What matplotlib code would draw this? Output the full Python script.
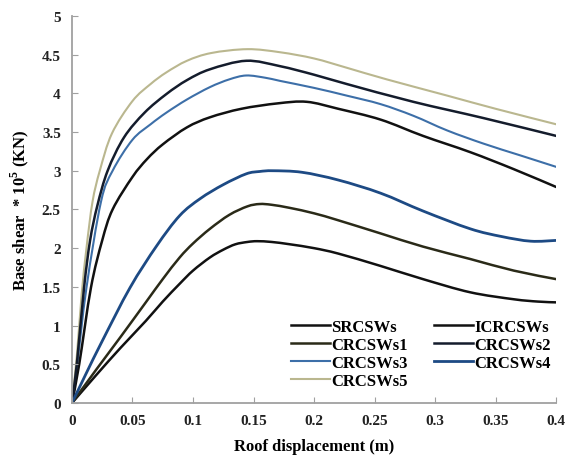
import matplotlib.pyplot as plt
import numpy as np
from matplotlib.path import Path
from matplotlib.patches import PathPatch

# pushover curves
x_sr = [0, 0.02, 0.04, 0.061, 0.075, 0.089, 0.10, 0.114, 0.125, 0.135, 0.145, 0.153, 0.165, 0.18, 0.2, 0.22, 0.255, 0.29, 0.329, 0.365, 0.385, 0.4]
y_sr = [0, 0.36, 0.71, 1.06, 1.31, 1.54, 1.71, 1.88, 1.98, 2.05, 2.08, 2.09, 2.08, 2.05, 2.0, 1.93, 1.77, 1.6, 1.43, 1.34, 1.31, 1.30]

x_c1 = [0, 0.02, 0.04, 0.061, 0.075, 0.089, 0.10, 0.114, 0.13, 0.145, 0.155, 0.165, 0.18, 0.2, 0.22, 0.255, 0.29, 0.329, 0.365, 0.4]
y_c1 = [0, 0.43, 0.85, 1.30, 1.60, 1.88, 2.06, 2.25, 2.43, 2.54, 2.57, 2.56, 2.52, 2.45, 2.36, 2.19, 2.02, 1.86, 1.71, 1.60]

x_c4 = [0, 0.012, 0.025, 0.048, 0.07, 0.089, 0.106, 0.125, 0.144, 0.155, 0.166, 0.19, 0.22, 0.255, 0.29, 0.329, 0.355, 0.379, 0.4]
y_c4 = [0, 0.39, 0.80, 1.49, 2.03, 2.42, 2.64, 2.82, 2.96, 2.99, 3.0, 2.98, 2.88, 2.71, 2.48, 2.25, 2.15, 2.09, 2.10]

x_ic = [0, 0.006, 0.0157, 0.025, 0.0336, 0.05, 0.062, 0.075, 0.095, 0.114, 0.14, 0.17, 0.194, 0.22, 0.255, 0.29, 0.329, 0.365, 0.4]
y_ic = [0, 0.5, 1.49, 2.1, 2.5, 2.92, 3.15, 3.34, 3.56, 3.69, 3.8, 3.87, 3.89, 3.80, 3.66, 3.45, 3.24, 3.02, 2.79]

x_c3 = [0, 0.004, 0.012, 0.024, 0.0336, 0.05, 0.065, 0.078, 0.095, 0.114, 0.13, 0.144, 0.16, 0.172, 0.2, 0.227, 0.255, 0.282, 0.31, 0.34, 0.37, 0.4]
y_c3 = [0, 0.45, 1.49, 2.6, 3.0, 3.4, 3.6, 3.75, 3.92, 4.08, 4.18, 4.23, 4.20, 4.16, 4.07, 3.97, 3.86, 3.71, 3.52, 3.35, 3.2, 3.05]

x_c2 = [0, 0.004, 0.010, 0.015, 0.021, 0.0295, 0.043, 0.06, 0.078, 0.095, 0.114, 0.144, 0.172, 0.2, 0.227, 0.282, 0.34, 0.4]
y_c2 = [0, 0.5, 1.49, 2.1, 2.55, 3.0, 3.43, 3.75, 3.99, 4.17, 4.31, 4.42, 4.35, 4.24, 4.12, 3.89, 3.68, 3.45]

x_c5 = [0, 0.004, 0.008, 0.012, 0.017, 0.023, 0.033, 0.05, 0.065, 0.078, 0.095, 0.115, 0.145, 0.172, 0.2, 0.227, 0.26, 0.31, 0.35, 0.4]
y_c5 = [0, 0.6, 1.4, 2.0, 2.6, 3.0, 3.48, 3.9, 4.12, 4.27, 4.42, 4.52, 4.57, 4.53, 4.45, 4.33, 4.18, 3.97, 3.8, 3.6]

plt.rcParams['font.family'] = ['Liberation Serif', 'DejaVu Serif']
plt.rcParams['mathtext.fontset'] = 'custom'
plt.rcParams['mathtext.rm'] = 'Liberation Serif'
plt.rcParams['mathtext.bf'] = 'Liberation Serif:bold'

fig = plt.figure(figsize=(5.71, 4.56), dpi=100)
ax = fig.add_axes([0.126, 0.114, 0.848, 0.849])


def smooth_line(ax, xs, ys, color, lw, label):
    # excel-like smoothed line: cardinal bezier segments through the points
    pts = np.column_stack([xs, ys])
    verts, codes = [pts[0]], [Path.MOVETO]
    for i in range(len(pts) - 1):
        p0 = pts[i - 1] if i > 0 else pts[i]
        p1, p2 = pts[i], pts[i + 1]
        p3 = pts[i + 2] if i + 2 < len(pts) else pts[i + 1]
        c1 = p1 + (p2 - p0) / 6.0
        c2 = p2 - (p3 - p1) / 6.0
        verts += [c1, c2, p2]
        codes += [Path.CURVE4] * 3
    ax.add_patch(PathPatch(Path(verts, codes), facecolor='none', edgecolor=color,
                           lw=lw, capstyle='round', joinstyle='round'))
    return ax.plot([], [], color=color, lw=lw, label=label)[0]


smooth_line(ax, x_sr, y_sr, '#111111', 1.8, 'SRCSWs')
smooth_line(ax, x_c1, y_c1, '#2a2a18', 1.8, 'CRCSWs1')
smooth_line(ax, x_c3, y_c3, '#3d6fa8', 1.5, 'CRCSWs3')
smooth_line(ax, x_c5, y_c5, '#bab78f', 1.5, 'CRCSWs5')
smooth_line(ax, x_ic, y_ic, '#111111', 1.8, 'ICRCSWs')
smooth_line(ax, x_c2, y_c2, '#141c2c', 1.8, 'CRCSWs2')
smooth_line(ax, x_c4, y_c4, '#1d4a84', 2.0, 'CRCSWs4')

ax.set_xlim(0, 0.4)
ax.set_ylim(0, 5)
ax.set_xticks([0, 0.05, 0.1, 0.15, 0.2, 0.25, 0.3, 0.35, 0.4])
ax.set_xticklabels(['0', '0.05', '0.1', '0.15', '0.2', '0.25', '0.3', '0.35', '0.4'])
ax.set_yticks(np.arange(0, 5.01, 0.5))
ax.set_yticklabels(['0', '0.5', '1', '1.5', '2', '2.5', '3', '3.5', '4', '4.5', '5'])

for s in ['top', 'right']:
    ax.spines[s].set_visible(False)
for s in ['left', 'bottom']:
    ax.spines[s].set_color('#a0a0a0')
    ax.spines[s].set_linewidth(1.3)
ax.tick_params(direction='in', length=4, color='#a0a0a0', labelsize=11, pad=8)
for t in ax.get_xticklabels() + ax.get_yticklabels():
    t.set_fontweight('bold')
    t.set_color('#222222')

ax.set_xlabel('Roof displacement (m)', fontsize=12, fontweight='bold', labelpad=8)
ax.set_ylabel(r'Base shear  * 10$^\mathbf{5}$ (KN)', fontsize=12, fontweight='bold', labelpad=8)

ax.legend(ncol=2, loc='lower right', bbox_to_anchor=(1.02, -0.002), frameon=False,
          prop={'size': 12, 'weight': 'bold'}, handlelength=2.3, handletextpad=0.1,
          columnspacing=1.6, labelspacing=0.12)

fig.savefig('out.png', dpi=100)
